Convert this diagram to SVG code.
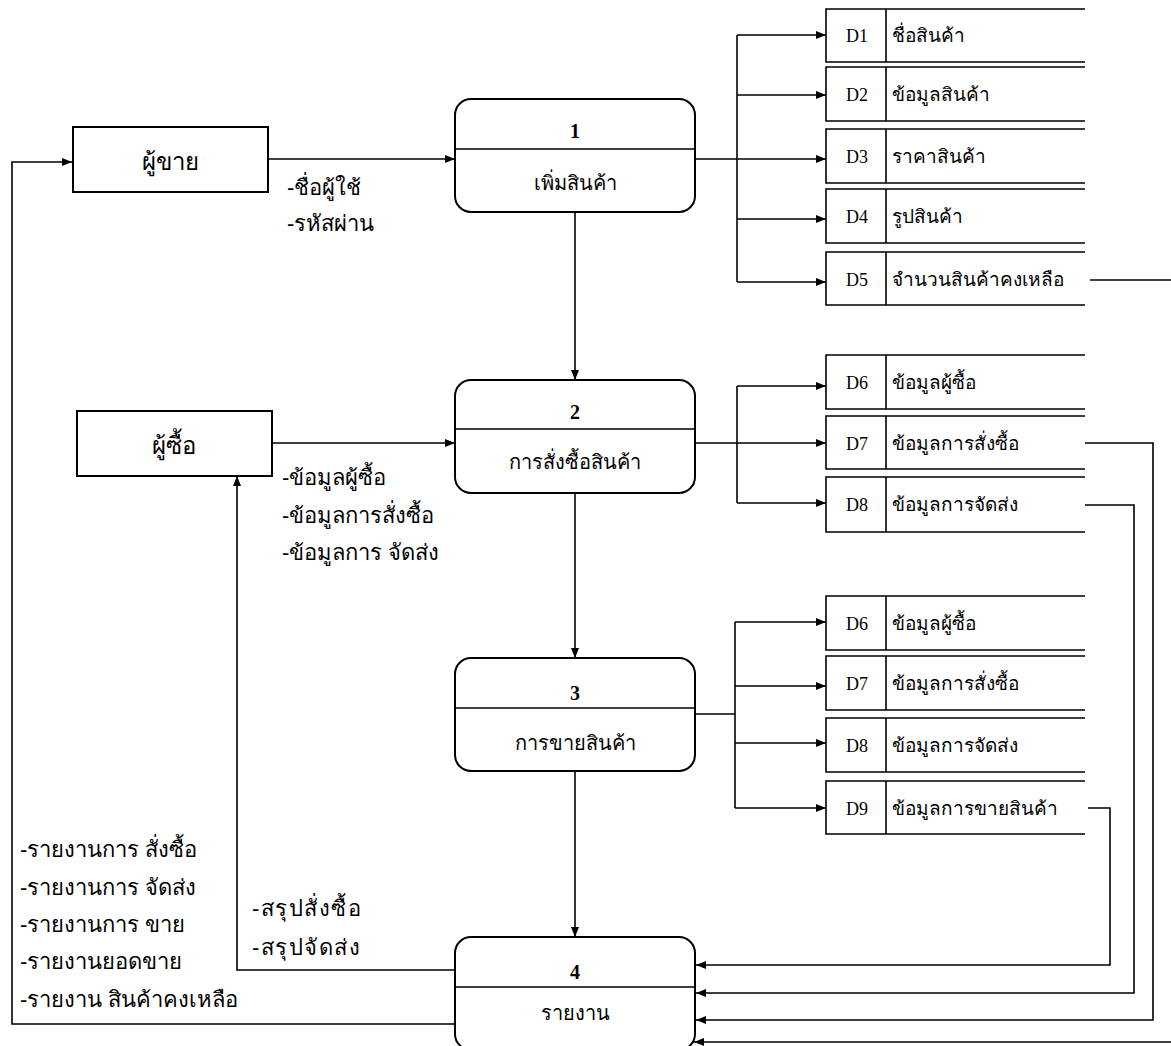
<svg xmlns="http://www.w3.org/2000/svg" width="1171" height="1046" viewBox="0 0 1171 1046">
<defs>
<marker id="ah" viewBox="0 0 10 8" refX="10" refY="4" markerWidth="10" markerHeight="8" markerUnits="userSpaceOnUse" orient="auto">
<path d="M0,0 L10,4 L0,8 Z" fill="#000"/>
</marker>
<style>
.box{fill:#fff;stroke:#000;stroke-width:2}
.ln{fill:none;stroke:#000;stroke-width:1.6}
.st{fill:none;stroke:#000;stroke-width:1.6}
.c{fill:none;stroke:#000;stroke-width:1.6}
.a{marker-end:url(#ah)}
.th{font-family:"Liberation Sans","DejaVu Sans",sans-serif;font-size:19px;fill:#000}
.fl{font-size:22px}
.pr{font-size:20px}
.big{font-size:24px}
.num{font-family:"Liberation Serif",serif;font-size:20px;font-weight:bold;fill:#000;text-anchor:middle}
.did{font-family:"Liberation Serif",serif;font-size:18px;fill:#000;text-anchor:middle}
.mid{text-anchor:middle}
</style>
</defs>
<rect width="1171" height="1046" fill="#fff"/>

<g id="connectors">
<path class="c a" d="M268,159 H455"/>
<path class="c" d="M695,159 H737"/>
<path class="c" d="M737,35 V282"/>
<path class="c a" d="M737,35 H826"/>
<path class="c a" d="M737,95 H826"/>
<path class="c a" d="M737,159 H826"/>
<path class="c a" d="M737,219 H826"/>
<path class="c a" d="M737,282 H826"/>
<path class="c" d="M1090,280 H1171"/>
<path class="c a" d="M575,212 V380"/>
<path class="c a" d="M272,443 H455"/>
<path class="c a" d="M695,443 H826"/>
<path class="c" d="M737,386 V503"/>
<path class="c a" d="M737,386 H826"/>
<path class="c a" d="M737,503 H826"/>
<path class="c a" d="M1085,443 H1153 V1020 H696"/>
<path class="c a" d="M1085,505 H1134 V993 H696"/>
<path class="c a" d="M575,493 V658"/>
<path class="c" d="M695,714 H735"/>
<path class="c" d="M735,622 V808"/>
<path class="c a" d="M735,622 H826"/>
<path class="c a" d="M735,686 H826"/>
<path class="c a" d="M735,743 H826"/>
<path class="c a" d="M735,808 H826"/>
<path class="c a" d="M1088,808 H1110 V965 H696"/>
<path class="c a" d="M575,771 V937"/>
<path class="c a" d="M1171,1042 H694"/>
<path class="c a" d="M455,970 H237 V476"/>
<path class="c a" d="M455,1024 H12 V162 H72"/>
<text class="th fl" x="287" y="195">-ชื่อผู้ใช้</text>
<text class="th fl" x="287" y="231">-รหัสผ่าน</text>
<text class="th fl" x="282" y="485">-ข้อมูลผู้ซื้อ</text>
<text class="th fl" x="282" y="523">-ข้อมูลการสั่งซื้อ</text>
<text class="th fl" x="282" y="560">-ข้อมูลการ จัดส่ง</text>
<text class="th fl" x="252" y="916" letter-spacing="1.5">-สรุปสั่งซื้อ</text>
<text class="th fl" x="252" y="955" letter-spacing="1.5">-สรุปจัดส่ง</text>
<text class="th fl" x="20" y="857">-รายงานการ สั่งซื้อ</text>
<text class="th fl" x="20" y="895">-รายงานการ จัดส่ง</text>
<text class="th fl" x="20" y="932">-รายงานการ ขาย</text>
<text class="th fl" x="20" y="969">-รายงานยอดขาย</text>
<text class="th fl" x="20" y="1007">-รายงาน สินค้าคงเหลือ</text>
</g>

<g id="seller">
<rect class="box" x="73" y="127" width="195" height="65"/>
<text class="th big mid" x="170" y="170">ผู้ขาย</text>
</g>
<g id="buyer">
<rect class="box" x="77" y="411" width="195" height="65"/>
<text class="th big mid" x="174" y="454">ผู้ซื้อ</text>
</g>

<g id="p1">
<rect class="box" x="455" y="99" width="240" height="113" rx="16"/>
<line class="ln" x1="455" y1="149" x2="695" y2="149"/>
<text class="num" x="575" y="138">1</text>
<text class="th pr mid" x="575" y="190">เพิ่มสินค้า</text>
</g>
<g id="p2">
<rect class="box" x="455" y="380" width="240" height="113" rx="16"/>
<line class="ln" x1="455" y1="429" x2="695" y2="429"/>
<text class="num" x="575" y="419">2</text>
<text class="th pr mid" x="575" y="469">การสั่งซื้อสินค้า</text>
</g>
<g id="p3">
<rect class="box" x="455" y="658" width="240" height="113" rx="16"/>
<line class="ln" x1="455" y1="708" x2="695" y2="708"/>
<text class="num" x="575" y="700">3</text>
<text class="th pr mid" x="575" y="750">การขายสินค้า</text>
</g>
<g id="p4">
<rect class="box" x="455" y="937" width="240" height="113" rx="16"/>
<line class="ln" x1="455" y1="987" x2="695" y2="987"/>
<text class="num" x="575" y="979">4</text>
<text class="th pr mid" x="575" y="1020">รายงาน</text>
</g>

<g id="d1"><path class="st" d="M1085,9 H826 V62 H1085 M886,9 V62"/><text class="did" x="857" y="42">D1</text><text class="th" x="892" y="42">ชื่อสินค้า</text></g>
<g id="d2"><path class="st" d="M1085,67 H826 V121 H1085 M886,67 V121"/><text class="did" x="857" y="101">D2</text><text class="th" x="892" y="101">ข้อมูลสินค้า</text></g>
<g id="d3"><path class="st" d="M1085,129 H826 V183 H1085 M886,129 V183"/><text class="did" x="857" y="163">D3</text><text class="th" x="892" y="163">ราคาสินค้า</text></g>
<g id="d4"><path class="st" d="M1085,189 H826 V243 H1085 M886,189 V243"/><text class="did" x="857" y="223">D4</text><text class="th" x="892" y="223">รูปสินค้า</text></g>
<g id="d5"><path class="st" d="M1085,252 H826 V305 H1085 M886,252 V305"/><text class="did" x="857" y="286">D5</text><text class="th" x="892" y="286">จำนวนสินค้าคงเหลือ</text></g>

<g id="d6a"><path class="st" d="M1085,355 H826 V409 H1085 M886,355 V409"/><text class="did" x="857" y="389">D6</text><text class="th" x="892" y="389">ข้อมูลผู้ซื้อ</text></g>
<g id="d7a"><path class="st" d="M1085,416 H826 V469 H1085 M886,416 V469"/><text class="did" x="857" y="450">D7</text><text class="th" x="892" y="450">ข้อมูลการสั่งซื้อ</text></g>
<g id="d8a"><path class="st" d="M1085,477 H826 V532 H1085 M886,477 V532"/><text class="did" x="857" y="511">D8</text><text class="th" x="892" y="511">ข้อมูลการจัดส่ง</text></g>

<g id="d6b"><path class="st" d="M1085,596 H826 V650 H1085 M886,596 V650"/><text class="did" x="857" y="630">D6</text><text class="th" x="892" y="630">ข้อมูลผู้ซื้อ</text></g>
<g id="d7b"><path class="st" d="M1085,656 H826 V710 H1085 M886,656 V710"/><text class="did" x="857" y="690">D7</text><text class="th" x="892" y="690">ข้อมูลการสั่งซื้อ</text></g>
<g id="d8b"><path class="st" d="M1085,718 H826 V772 H1085 M886,718 V772"/><text class="did" x="857" y="752">D8</text><text class="th" x="892" y="752">ข้อมูลการจัดส่ง</text></g>
<g id="d9"><path class="st" d="M1085,781 H826 V834 H1085 M886,781 V834"/><text class="did" x="857" y="815">D9</text><text class="th" x="892" y="815">ข้อมูลการขายสินค้า</text></g>
</svg>
